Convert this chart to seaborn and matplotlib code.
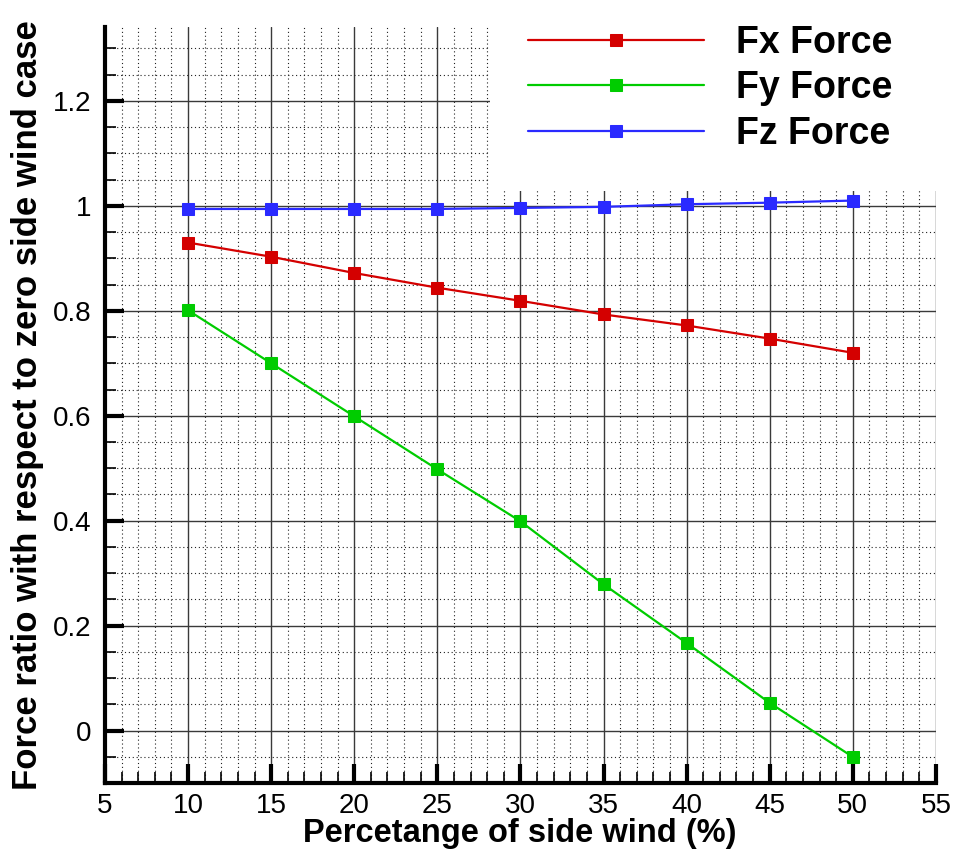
import matplotlib
matplotlib.use("Agg")
import matplotlib.pyplot as plt
import matplotlib.patches as mpatches
from matplotlib.ticker import MultipleLocator, FuncFormatter
import numpy as np
import pandas as pd
import seaborn as sns

# Side-wind percentage and force ratios (relative to the zero side-wind case)
side_wind = [10, 15, 20, 25, 30, 35, 40, 45, 50]
fx_ratio = [0.930, 0.903, 0.872, 0.844, 0.819, 0.793, 0.772, 0.747, 0.720]
fy_ratio = [0.801, 0.700, 0.599, 0.498, 0.399, 0.279, 0.167, 0.053, -0.050]
fz_ratio = [0.994, 0.994, 0.994, 0.994, 0.996, 0.998, 1.003, 1.006, 1.010]

series_names = ["Fx Force", "Fy Force", "Fz Force"]
series_values = [fx_ratio, fy_ratio, fz_ratio]
series_colors = ["#d40000", "#00cc00", "#2a2aff"]

sns.set_theme(style="white")
plt.rcParams["font.family"] = ["Liberation Sans", "DejaVu Sans"]
plt.rcParams["text.color"] = "black"
plt.rcParams["axes.labelcolor"] = "black"
plt.rcParams["xtick.color"] = "black"
plt.rcParams["ytick.color"] = "black"

fig = plt.figure(figsize=(9.54, 8.55), dpi=100)
ax = fig.add_axes([0.110, 0.084, 0.871, 0.884])

for name, vals, col in zip(series_names, series_values, series_colors):
    df = pd.DataFrame({"wind": side_wind, "ratio": vals})
    sns.lineplot(data=df, x="wind", y="ratio", ax=ax, color=col, marker="s",
                 markersize=9, markeredgecolor=col, linewidth=1.6, label=name,
                 zorder=3)

ax.set_xlim(5, 55)
ax.set_ylim(-0.1, 1.34)

ax.xaxis.set_major_locator(MultipleLocator(5))
ax.xaxis.set_minor_locator(MultipleLocator(1))
ax.yaxis.set_major_locator(MultipleLocator(0.2))
ax.yaxis.set_minor_locator(MultipleLocator(0.05))
ax.yaxis.set_major_formatter(FuncFormatter(lambda v, p: f"{v:g}" if abs(v) > 1e-9 else "0"))

ax.set_axisbelow(True)
ax.grid(True, which="major", color="#3a3a3a", linewidth=1.0, linestyle="-")
ax.grid(True, which="minor", color="#222222", linewidth=0.8, linestyle=(0, (1, 2.5)))

for side in ["top", "right"]:
    ax.spines[side].set_visible(False)
for side in ["left", "bottom"]:
    ax.spines[side].set_linewidth(3)
    ax.spines[side].set_color("black")

ax.tick_params(which="major", direction="in", length=14, width=3, color="black",
               labelsize=20, labelcolor="black", pad=10)
ax.tick_params(axis="x", which="major", pad=7)
ax.tick_params(which="minor", direction="in", length=8, width=1.2, color="black")
ax.tick_params(axis="both", which="both", bottom=True, left=True)

ax.set_xlabel("Percetange of side wind (%)", fontsize=23.5, fontweight="bold",
              color="black")
ax.xaxis.set_label_coords(0.499, -0.046)
ax.set_ylabel("Force ratio with respect to zero side wind case", fontsize=25,
              fontweight="bold", color="black", labelpad=6)

# White panel behind the legend
ax.add_patch(mpatches.Rectangle((0.463, 0.784), 0.6, 0.3, transform=ax.transAxes,
                                facecolor="white", edgecolor="none", zorder=1,
                                clip_on=False))

leg = ax.legend(loc="upper left", bbox_to_anchor=(528 / 954, 1 - 25 / 855),
                bbox_transform=fig.transFigure, frameon=False, borderpad=0,
                borderaxespad=0, handlelength=4.7, handletextpad=0.85,
                labelspacing=0.25, numpoints=1,
                prop={"size": 27, "weight": "bold"})
for txt in leg.get_texts():
    txt.set_color("black")

fig.savefig("out.png", dpi=100, facecolor="white")
